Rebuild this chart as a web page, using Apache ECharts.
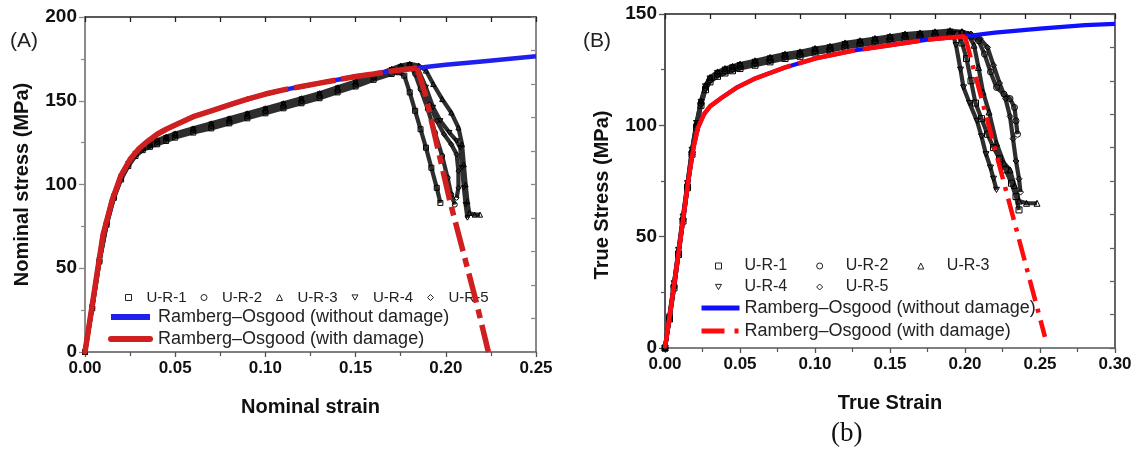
<!DOCTYPE html>
<html>
<head>
<meta charset="utf-8">
<script src="https://cdn.jsdelivr.net/npm/echarts@6/dist/echarts.min.js"></script>
<style>
  html, body { margin: 0; padding: 0; background: #fff; }
  #chart { width: 1136px; height: 451px; }
</style>
</head>
<body>
<div id="chart"></div>
<script>
// ---------- Panel A: nominal stress-strain ----------
const nomStrainGrid = [0, 0.004, 0.008, 0.012, 0.016, 0.02, 0.024, 0.028, 0.032, 0.036, 0.04, 0.045, 0.05,
  0.06, 0.07, 0.08, 0.09, 0.10, 0.11, 0.12, 0.13, 0.14, 0.15, 0.16, 0.17];
const nomUR1 = [0, 26, 54, 76, 92, 103, 111, 117, 120.5, 122.5, 124, 126, 128, 131, 133.5, 136.5, 139.5, 142.5, 145.5, 148.5, 151.5, 155, 158.5, 162.5, 166];
const nomUR2 = [0, 27, 55, 77, 93, 104, 112, 118, 121.5, 123.5, 125.5, 127.5, 129.5, 132.5, 135, 138, 141, 144, 147, 150, 153, 156.5, 160, 164, 168];
const nomUR3 = [0, 28, 56, 78, 94, 105, 113, 119, 122.5, 124.5, 126.5, 128.5, 130.5, 133.5, 136.5, 139.5, 142.5, 145.5, 148.5, 151.5, 154.5, 158, 161.5, 165, 169];
const nomUR4 = [0, 27, 55, 77, 93, 104.5, 112.5, 118.5, 122, 124, 126, 128, 130, 133, 136, 139, 142, 145, 148, 151, 154, 157.5, 161, 164.5, 168.5];
const nomUR5 = [0, 26, 54, 76, 92, 103.5, 111.5, 117.5, 121, 123, 125, 127, 129, 132, 134.5, 137.5, 140.5, 143.5, 146.5, 149.5, 152.5, 156, 159.5, 163.5, 167.5];
// post-peak [strain, stress]
const nomUR1Drop = [[0.174, 167], [0.177, 165], [0.180, 155], [0.183, 144], [0.186, 133], [0.189, 122], [0.192, 110], [0.195, 98], [0.197, 89]];
const nomUR2Drop = [[0.175, 170], [0.180, 171], [0.183, 166], [0.186, 157], [0.190, 145], [0.194, 131], [0.198, 117], [0.201, 104], [0.203, 94], [0.205, 88]];
const nomUR3Drop = [[0.175, 171], [0.180, 172], [0.185, 171], [0.189, 168], [0.193, 160], [0.198, 151], [0.203, 143], [0.207, 134], [0.209, 124], [0.210, 112], [0.211, 100], [0.212, 90], [0.213, 83], [0.216, 82], [0.219, 82]];
const nomUR4Drop = [[0.175, 170], [0.180, 171.5], [0.185, 168], [0.189, 158], [0.193, 146], [0.197, 138], [0.202, 131], [0.206, 126], [0.208, 122], [0.209, 110], [0.210, 98], [0.211, 88], [0.212, 80]];
const nomUR5Drop = [[0.175, 169], [0.180, 170], [0.184, 168], [0.187, 160], [0.191, 148], [0.195, 138], [0.199, 130], [0.203, 124], [0.206, 118], [0.207, 108], [0.207, 98], [0.206, 92]];

// Ramberg–Osgood fit, shared hardening branch
const nomFitStrain = [0, 0.005, 0.010, 0.015, 0.020, 0.025, 0.030, 0.035, 0.040, 0.045, 0.050, 0.060, 0.070, 0.080, 0.090,
  0.100, 0.110, 0.120, 0.130, 0.140, 0.150, 0.160, 0.170, 0.184];
const nomFitStress = [0, 35, 70, 90.5, 105.5, 115, 121.5, 126, 130, 133, 135.5, 140.5, 144, 147.5, 151,
  154, 156.5, 158.5, 160.5, 162.5, 164.5, 166, 167.8, 169.5];
const nomNoDamageTail = [[0.19, 170.3], [0.20, 171.5], [0.22, 173.5], [0.25, 176.5]];
const nomDamageTail = [[0.1885, 154.5], [0.2023, 90], [0.2171, 29], [0.2236, 0]];

// ---------- Panel B: true stress-strain ----------
const trueStrainGrid = [0, 0.003, 0.006, 0.009, 0.012, 0.015, 0.018, 0.021, 0.024, 0.027, 0.03, 0.035, 0.04, 0.045, 0.05,
  0.06, 0.07, 0.08, 0.09, 0.10, 0.11, 0.12, 0.13, 0.14, 0.15, 0.16, 0.17, 0.18, 0.19];
const trueUR1 = [0, 13, 27, 42, 57, 72, 87, 99, 109, 116, 119.5, 122, 123.5, 124.5, 125.5, 127, 128.5, 130, 131, 132.5, 133.5, 135, 136, 137, 138, 139, 139.5, 140, 140.5];
const trueUR2 = [0, 14, 28, 43, 58, 73, 88, 100, 110, 117, 120.5, 123, 124.5, 125.5, 126.5, 128, 129.5, 131, 132, 133.5, 134.5, 136, 137, 138, 139, 140, 140.5, 141, 141.5];
const trueUR3 = [0, 15, 29, 44, 59, 74, 89, 101, 111, 118, 121.5, 124, 125.5, 126.5, 127.5, 129, 130.5, 132, 133, 134.5, 135.5, 137, 138, 139, 140, 141, 141.5, 142, 142.5];
const trueUR4 = [0, 14, 29, 44, 59, 74, 89, 101, 110.5, 117.5, 121, 123.5, 125, 126, 127, 128.5, 130, 131.5, 132.5, 134, 135, 136.5, 137.5, 138.5, 139.5, 140.5, 141, 141.5, 142];
const trueUR5 = [0, 13, 27, 42, 57, 72, 87, 99.5, 109.5, 116.5, 120, 122.5, 124, 125, 126, 127.5, 129, 130.5, 131.5, 133, 134, 135.5, 136.5, 137.5, 138.5, 139.5, 140, 140.5, 141];
const trueUR1Drop = [[0.195, 141], [0.198, 137], [0.201, 130], [0.204, 120], [0.207, 110], [0.211, 103], [0.215, 96], [0.219, 90], [0.223, 85], [0.227, 80], [0.231, 74], [0.234, 68], [0.236, 62]];
const trueUR2Drop = [[0.198, 141.5], [0.204, 140], [0.209, 138], [0.213, 132], [0.217, 124], [0.221, 117], [0.226, 114], [0.230, 112], [0.233, 108], [0.234, 102], [0.235, 96]];
const trueUR3Drop = [[0.198, 142], [0.202, 141], [0.206, 136], [0.209, 126], [0.212, 115], [0.216, 106], [0.221, 92], [0.226, 83], [0.230, 80], [0.233, 73], [0.236, 66], [0.241, 65], [0.248, 65]];
const trueUR4Drop = [[0.192, 141], [0.194, 136], [0.197, 125], [0.199, 117], [0.203, 110], [0.208, 102], [0.211, 95], [0.214, 87], [0.217, 81], [0.219, 76], [0.221, 71]];
const trueUR5Drop = [[0.198, 142], [0.204, 141], [0.210, 139], [0.215, 135], [0.219, 127], [0.223, 119], [0.227, 112], [0.230, 104], [0.232, 94], [0.234, 84], [0.236, 76], [0.237, 70]];

const trueFitStrain = [0, 0.003, 0.006, 0.0105, 0.0155, 0.019, 0.022, 0.026, 0.030, 0.038, 0.048, 0.060, 0.070, 0.080,
  0.100, 0.125, 0.150, 0.175, 0.200];
const trueFitStress = [0, 14, 28, 50, 75, 90, 99, 105, 108.5, 112.5, 117, 121, 123.5, 126,
  130, 133.5, 136, 138.5, 140];
const trueNoDamageTail = [[0.22, 141.6], [0.25, 143.4], [0.28, 145], [0.30, 145.6]];
const trueDamageTail = [[0.2533, 5]];

// ---------- labels ----------
const specimenNames = ['U-R-1', 'U-R-2', 'U-R-3', 'U-R-4', 'U-R-5'];
const fitNoDamage = 'Ramberg–Osgood (without damage)';
const fitDamage = 'Ramberg–Osgood (with damage)';
const nomXTicks = [0, 0.05, 0.10, 0.15, 0.20, 0.25];
const trueXTicks = [0, 0.05, 0.10, 0.15, 0.20, 0.25, 0.30];

// ---------- helpers ----------
const SANS = '"Liberation Sans", Arial, sans-serif';
const downTri = 'path://M0,0L10,0L5,8.7Z';
const specimenSymbols = ['rect', 'circle', 'triangle', downTri, 'diamond'];

const NOM_BLUE = '#2020ee';
const NOM_RED = '#d01f1f';
const TRUE_BLUE = '#1010ff';
const TRUE_RED = '#ff0a0a';
const NOM_DROP_DASH = [30, 7, 9, 7];
const TRUE_DROP_DASH = [22, 8, 4, 8];

function pairs(xs, ys) { return xs.map((x, i) => [x, ys[i]]); }

function specimenSeries(axisIdx, rises, drops, grid, size) {
  return specimenNames.map((name, k) => ({
    name, type: 'line', xAxisIndex: axisIdx, yAxisIndex: axisIdx,
    data: pairs(grid, rises[k]).concat(drops[k]),
    symbol: specimenSymbols[k], symbolSize: size, showSymbol: true, showAllSymbol: true,
    symbolKeepAspect: true,
    lineStyle: { color: '#2e2e2e', width: 4.2, join: 'round' },
    itemStyle: { color: 'rgba(0,0,0,0)', borderColor: '#000', borderWidth: 1 },
    z: 2, silent: true, animation: false, emphasis: { disabled: true }
  }));
}

function lineSeries(name, axisIdx, data, color, width, type, z, cap) {
  return {
    name, type: 'line', xAxisIndex: axisIdx, yAxisIndex: axisIdx, data,
    symbol: 'none', smooth: false,
    lineStyle: { color, width, type: type || 'solid', cap: cap || 'butt', join: 'round' },
    itemStyle: { color },
    z, silent: true, animation: false, emphasis: { disabled: true }
  };
}

function mainX(idx, max, name, ticks) {
  return {
    gridIndex: idx, type: 'value', min: 0, max, interval: 0.05, position: 'bottom',
    axisLine: { onZero: false, lineStyle: { color: '#555', width: 1.6 } },
    axisTick: { length: 5, lineStyle: { width: 1.3 } },
    minorTick: { show: true, splitNumber: 2, length: 4, lineStyle: { color: '#555', width: 1.2 } },
    splitLine: { show: false },
    axisLabel: {
      margin: 8, color: '#111', fontFamily: SANS, fontWeight: 'bold', fontSize: 17,
      formatter: v => ticks.some(t => Math.abs(t - v) < 1e-9) ? v.toFixed(2) : ''
    },
    name, nameLocation: 'middle', nameGap: 45,
    nameTextStyle: { color: '#111', fontFamily: SANS, fontWeight: 'bold', fontSize: 20 }
  };
}
function mirrorX(idx, max) {
  return {
    gridIndex: idx, type: 'value', min: 0, max, interval: max / 10, position: 'top',
    axisLine: { onZero: false, lineStyle: { color: '#222', width: 1.6 } },
    axisTick: { inside: true, length: 5, lineStyle: { width: 1.3 } },
    axisLabel: { show: false }, splitLine: { show: false }
  };
}
function mainY(idx, max, name, lineColor, pad) {
  return {
    gridIndex: idx, type: 'value', min: 0, max, interval: 50, position: 'left',
    axisLine: { show: true, onZero: false, lineStyle: { color: lineColor, width: 2 } },
    axisTick: { show: true, length: 6, lineStyle: { width: 1.3 } },
    minorTick: { show: true, splitNumber: 2, length: 4, lineStyle: { color: lineColor, width: 1.2 } },
    splitLine: { show: false },
    axisLabel: { margin: 8, color: '#111', fontFamily: SANS, fontWeight: 'bold', fontSize: 19 },
    name, nameLocation: 'middle', nameGap: 53,
    nameTextStyle: { color: '#111', fontFamily: SANS, fontWeight: 'bold', fontSize: 20, padding: pad }
  };
}
function mirrorY(idx, max, lineColor) {
  return {
    gridIndex: idx, type: 'value', min: 0, max, interval: max / 10, position: 'right',
    axisLine: { show: true, onZero: false, lineStyle: { color: lineColor, width: 2 } },
    axisTick: { show: true, inside: true, length: 5, lineStyle: { width: 1.3 } },
    axisLabel: { show: false }, splitLine: { show: false }
  };
}

const nomBase = pairs(nomFitStrain, nomFitStress);
const trueBase = pairs(trueFitStrain, trueFitStress);
const nomPeak = nomBase[nomBase.length - 1];
const truePeak = trueBase[trueBase.length - 1];
// where the plotted damage curve switches from a solid to a long-dashed stroke
const nomSplit = nomFitStrain.indexOf(0.090);
const trueSplit = trueFitStrain.indexOf(0.048);

const series = [
  ...specimenSeries(0, [nomUR1, nomUR2, nomUR3, nomUR4, nomUR5],
    [nomUR1Drop, nomUR2Drop, nomUR3Drop, nomUR4Drop, nomUR5Drop], nomStrainGrid, 5),
  lineSeries(fitNoDamage, 0, nomBase.concat(nomNoDamageTail), NOM_BLUE, 4.5, 'solid', 3),
  lineSeries(fitDamage, 0, nomBase.slice(0, nomSplit + 1), NOM_RED, 5.5, 'solid', 4, 'round'),
  lineSeries(fitDamage, 0, nomBase.slice(nomSplit), NOM_RED, 5.5, [42, 6], 4),
  lineSeries(fitDamage, 0, [nomPeak].concat(nomDamageTail), NOM_RED, 5.5, NOM_DROP_DASH, 4),

  ...specimenSeries(2, [trueUR1, trueUR2, trueUR3, trueUR4, trueUR5],
    [trueUR1Drop, trueUR2Drop, trueUR3Drop, trueUR4Drop, trueUR5Drop], trueStrainGrid, 6),
  lineSeries(fitNoDamage, 2, trueBase.concat(trueNoDamageTail), TRUE_BLUE, 4.2, 'solid', 3),
  lineSeries(fitDamage, 2, [truePeak].concat(trueDamageTail), TRUE_RED, 4.5, TRUE_DROP_DASH, 4),
  lineSeries(fitDamage, 2, trueBase.slice(0, trueSplit + 1), TRUE_RED, 4.5, 'solid', 4),
  lineSeries(fitDamage, 2, trueBase.slice(trueSplit), TRUE_RED, 4.5, [58, 8], 4)
];

function markerLegend(names, left, top, gap, fontSize, textPad) {
  return {
    show: true, orient: 'horizontal', left, top, padding: 0, itemGap: gap,
    itemWidth: 6, itemHeight: 6, selectedMode: false,
    data: names.map(n => ({ name: n, icon: specimenSymbols[specimenNames.indexOf(n)] })),
    itemStyle: { color: 'rgba(0,0,0,0)', borderColor: '#222', borderWidth: 1 },
    textStyle: { color: '#222', fontFamily: SANS, fontSize, padding: [0, 0, 0, textPad] }
  };
}
function lineLegend(left, top, itemWidth, gap, width, fontSize, textPad, blue, red, redDash, redCap) {
  return {
    show: true, orient: 'vertical', left, top, padding: 0, itemGap: gap,
    itemWidth, itemHeight: 8, selectedMode: false,
    data: [
      { name: fitNoDamage, lineStyle: { color: blue, width, type: 'solid', cap: 'butt' } },
      { name: fitDamage, lineStyle: { color: red, width, type: redDash, cap: redCap } }
    ],
    itemStyle: { opacity: 0 },
    textStyle: { color: '#222', fontFamily: SANS, fontSize, padding: [0, 0, 0, textPad] }
  };
}

const option = {
  backgroundColor: '#fff',
  animation: false,
  grid: [
    { left: 85, top: 17, width: 451, height: 335 },
    { left: 665, top: 14, width: 450, height: 334 }
  ],
  xAxis: [
    mainX(0, 0.25, 'Nominal strain', nomXTicks),
    mirrorX(0, 0.25),
    mainX(1, 0.30, 'True Strain', trueXTicks),
    mirrorX(1, 0.30)
  ],
  yAxis: [
    mainY(0, 200, 'Nominal stress (MPa)', '#8a8a8a', 0),
    mirrorY(0, 200, '#8a8a8a'),
    mainY(1, 150, 'True Stress (MPa)', '#555', [0, 28, 0, 0]),
    mirrorY(1, 150, '#666')
  ],
  legend: [
    markerLegend(specimenNames, 125, 290, 14, 15, 10),
    lineLegend(108, 308, 39, 4, 6, 18, 3, NOM_BLUE, NOM_RED, 'solid', 'round'),
    markerLegend(specimenNames.slice(0, 3), 715, 258, 29, 16, 18),
    markerLegend(specimenNames.slice(3), 715, 279, 29, 16, 18),
    lineLegend(699, 299, 38, 5, 5, 18, 0, TRUE_BLUE, TRUE_RED, [23, 10, 4, 10], 'butt')
  ],
  graphic: [
    { type: 'text', left: 10, top: 31, style: { text: '(A)', fontFamily: SANS, fontSize: 21, fill: '#222' } },
    { type: 'text', left: 583, top: 31, style: { text: '(B)', fontFamily: SANS, fontSize: 21, fill: '#222' } },
    { type: 'text', left: 831, top: 420, style: { text: '(b)', fontFamily: '"Liberation Serif", "Times New Roman", serif', fontSize: 27, fill: '#111' } }
  ],
  series
};

const chart = echarts.init(document.getElementById('chart'), null, { renderer: 'canvas' });
chart.setOption(option);
</script>
</body>
</html>
